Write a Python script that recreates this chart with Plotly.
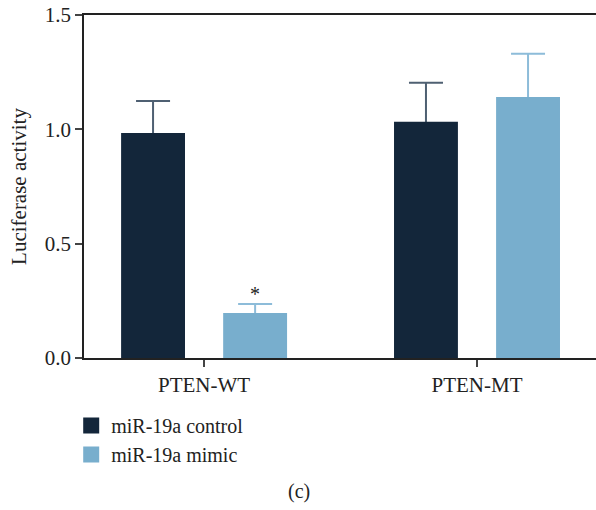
import plotly.graph_objects as go

# Luciferase reporter assay: PTEN wild-type vs mutant 3'UTR
categories = ["PTEN-WT", "PTEN-MT"]
control_mean = [0.984, 1.033]
control_err = [0.140, 0.171]
mimic_mean = [0.197, 1.141]
mimic_err = [0.039, 0.190]
y_ticks = [0.0, 0.5, 1.0, 1.5]

DARK = "#13263a"
LIGHT = "#78aecd"
FONT = "Liberation Serif"
TXT = "#222"

fig = go.Figure()

# Whiskers: transparent bars carrying the error bars. The lower half of each
# whisker runs down to zero and is hidden by the solid bar drawn afterwards,
# so only the upward (mean + SD) part shows.
for name, mean, err, col in [("control", control_mean, control_err, "#4f6072"),
                             ("mimic", mimic_mean, mimic_err, "#8dbcd9")]:
    fig.add_trace(go.Bar(
        x=categories, y=mean, offsetgroup=name, showlegend=False,
        marker=dict(color="rgba(0,0,0,0)", line=dict(width=0)),
        error_y=dict(type="data", array=err, symmetric=False, arrayminus=mean,
                     color=col, thickness=2, width=17),
        hoverinfo="skip",
    ))

for name, label, mean, col in [("control", "miR-19a control", control_mean, DARK),
                               ("mimic", "miR-19a mimic", mimic_mean, LIGHT)]:
    fig.add_trace(go.Bar(
        x=categories, y=mean, offsetgroup=name, name=label, showlegend=False,
        marker=dict(color=col, line=dict(width=0)),
    ))

# legend entries with larger square swatches
for name, color in [("miR-19a control", DARK), ("miR-19a mimic", LIGHT)]:
    fig.add_trace(go.Scatter(
        x=[None], y=[None], mode="markers", name=name,
        marker=dict(symbol="square", size=16, color=color),
    ))

# significance mark above the mimic bar of PTEN-WT
fig.add_annotation(
    x=categories[0], y=mimic_mean[0] + mimic_err[0], xshift=51,
    text="*", showarrow=False, yanchor="bottom", yshift=-3,
    font=dict(family=FONT, size=20, color=TXT),
)

fig.add_annotation(
    x=0.42, y=-0.39, xref="paper", yref="paper", text="(c)",
    showarrow=False, xanchor="center", yanchor="middle",
    font=dict(family=FONT, size=20, color=TXT),
)

fig.update_layout(
    width=596, height=510,
    margin=dict(l=84, r=0, t=15, b=152),
    paper_bgcolor="white", plot_bgcolor="white",
    barmode="group", bargap=0.252, bargroupgap=0.374,
    font=dict(family=FONT, size=21, color=TXT),
    legend=dict(
        x=-0.025, y=-0.14, xanchor="left", yanchor="top",
        orientation="v", traceorder="normal",
        itemsizing="trace", font=dict(family=FONT, size=20, color=TXT),
        bgcolor="rgba(0,0,0,0)",
    ),
)

fig.update_xaxes(
    range=[-0.44, 1.436], showline=True, linecolor="#222", linewidth=1.5,
    mirror=True, ticks="outside", ticklen=7, tickcolor="#444", tickwidth=1.5,
    showgrid=False, zeroline=False, tickfont=dict(family=FONT, size=21),
)
fig.update_yaxes(
    range=[0, 1.5], tickvals=y_ticks, ticktext=[f"{v:.1f}" for v in y_ticks],
    showline=True, linecolor="#222", linewidth=1.5,
    ticks="outside", ticklen=7, tickcolor="#444", tickwidth=1.5,
    showgrid=False, zeroline=False, tickfont=dict(family=FONT, size=21),
    title=dict(text="Luciferase activity", standoff=12,
               font=dict(family=FONT, size=21)),
)

fig.write_html("out.html")
